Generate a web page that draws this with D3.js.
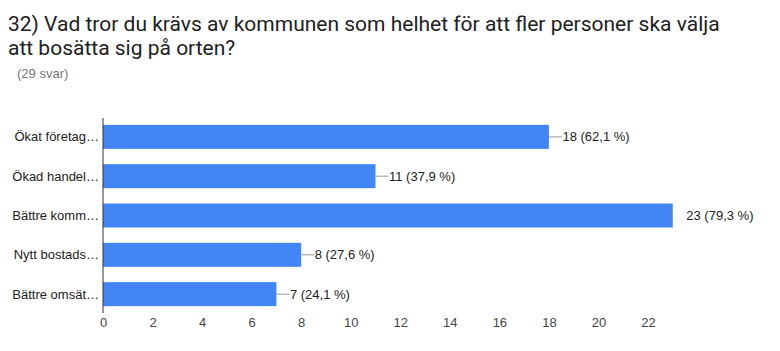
<!DOCTYPE html>
<html>
<head>
<meta charset="utf-8">
<script src="https://cdn.jsdelivr.net/npm/d3@7"></script>
<style>
  body { margin: 0; background: #fff; }
  svg { display: block; }
</style>
</head>
<body>
<div id="chart"></div>
<script>
// Data
const categories = ["Ökat företag…", "Ökad handel…", "Bättre komm…", "Nytt bostads…", "Bättre omsät…"];
const counts = [18, 11, 23, 8, 7];
const percents = ["62,1", "37,9", "79,3", "27,6", "24,1"];
const xTicks = [0, 2, 4, 6, 8, 10, 12, 14, 16, 18, 20, 22];
const titleLines = [
  "32) Vad tror du krävs av kommunen som helhet för att fler personer ska välja",
  "att bosätta sig på orten?"
];
const subtitle = "(29 svar)";

const width = 780, height = 351;
const barColor = "#4285f4";

const svg = d3.select("#chart").append("svg")
  .attr("width", width)
  .attr("height", height);

// title
svg.append("g").selectAll("text")
  .data(titleLines)
  .join("text")
    .attr("x", 8)
    .attr("y", (d, i) => 31 + i * 23.5)
    .attr("font-family", "Roboto, Arial, sans-serif")
    .attr("font-size", "21px")
    .attr("fill", "#212121")
    .text(d => d);

svg.append("text")
  .attr("x", 17)
  .attr("y", 78)
  .attr("font-family", "Arial, 'Liberation Sans', sans-serif")
  .attr("font-size", "13px")
  .attr("fill", "#777")
  .text(subtitle);

const data = categories.map((c, i) => ({ cat: c, value: counts[i], pct: percents[i] }));

// scales
const x = d3.scaleLinear().domain([0, 22]).range([103, 648]);
const y = d3.scaleBand().domain(categories).range([117.4, 313.6])
  .paddingInner(0.39).paddingOuter(0.19);

const font = "Arial, 'Liberation Sans', sans-serif";

// bars
svg.append("g").selectAll("rect")
  .data(data)
  .join("rect")
    .attr("x", x(0))
    .attr("y", d => y(d.cat))
    .attr("width", d => x(d.value) - x(0))
    .attr("height", y.bandwidth())
    .attr("fill", barColor);

// baseline axis line
svg.append("line")
  .attr("x1", x(0)).attr("x2", x(0))
  .attr("y1", 118).attr("y2", 313)
  .attr("stroke", "#333")
  .attr("stroke-width", 1);

// category labels
svg.append("g").selectAll("text")
  .data(data)
  .join("text")
    .attr("x", 99)
    .attr("y", d => y(d.cat) + y.bandwidth() / 2)
    .attr("dy", "0.35em")
    .attr("text-anchor", "end")
    .attr("font-family", font)
    .attr("font-size", "13px")
    .attr("fill", "#222")
    .text(d => d.cat);

// x tick labels
const xAxis = d3.axisBottom(x).tickValues(xTicks).tickSize(0).tickPadding(0);
const gx = svg.append("g")
  .attr("transform", "translate(0,318)")
  .call(xAxis);
gx.select(".domain").remove();
gx.selectAll("text")
  .attr("dy", "0.71em")
  .attr("font-family", font)
  .attr("font-size", "13px")
  .attr("fill", "#444");

// value annotations with short leader lines
const maxVal = d3.max(counts);
const ann = svg.append("g").selectAll("g")
  .data(data)
  .join("g");

ann.filter(d => d.value < maxVal).append("line")
  .attr("x1", d => x(d.value))
  .attr("x2", d => x(d.value) + 13)
  .attr("y1", d => y(d.cat) + y.bandwidth() / 2)
  .attr("y2", d => y(d.cat) + y.bandwidth() / 2)
  .attr("stroke", "#999")
  .attr("stroke-width", 1);

ann.append("text")
  .attr("x", d => x(d.value) + 13.5)
  .attr("y", d => y(d.cat) + y.bandwidth() / 2)
  .attr("dy", "0.35em")
  .attr("font-family", font)
  .attr("font-size", "13px")
  .attr("fill", "#222")
  .text(d => `${d.value} (${d.pct} %)`);
</script>
</body>
</html>
